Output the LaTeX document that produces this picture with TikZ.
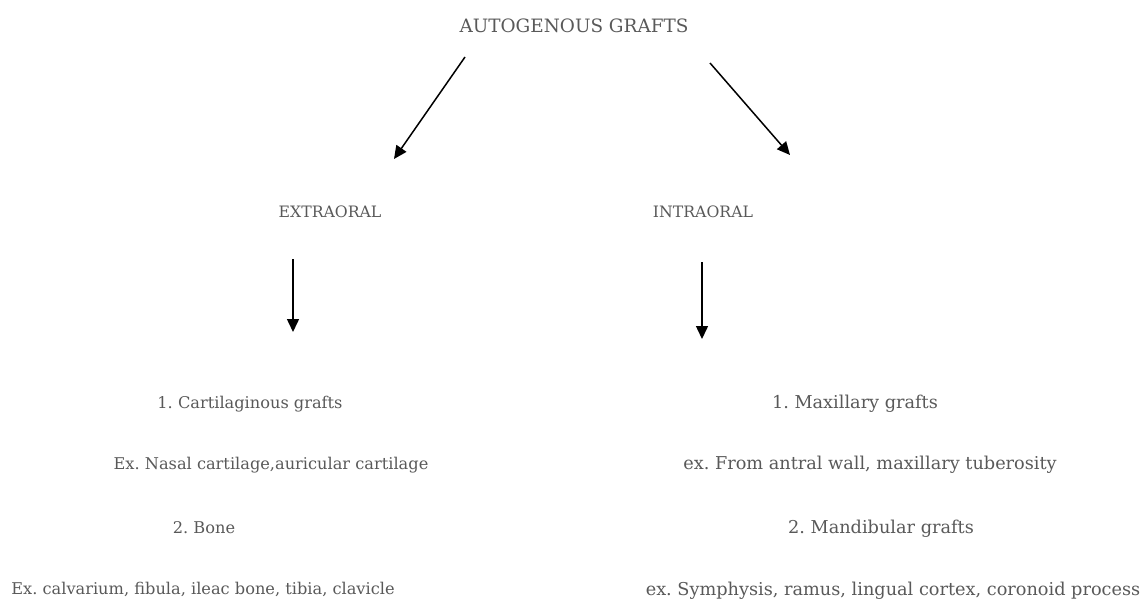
\documentclass[tikz,border=0pt]{standalone}
\usepackage{fontspec}
\setmainfont{DejaVu Serif}
\usetikzlibrary{arrows.meta}
\definecolor{txt}{HTML}{595959}
\frenchspacing
\begin{document}
\begin{tikzpicture}[x=1pt,y=-1pt,
  lbl/.style={text=txt,font=\fontsize{16.2}{18}\selectfont,inner sep=0pt,anchor=base},
  rlbl/.style={lbl,font=\fontsize{17.7}{19}\selectfont},
  toplbl/.style={lbl,font=\fontsize{18.4}{20}\selectfont},
  caplbl/.style={lbl,font=\fontsize{15.7}{17}\selectfont},
  arr/.style={line width=1.5pt,-{Triangle[length=13pt,width=12pt]}}]
\useasboundingbox (0,0) rectangle (1145,599);
\node[toplbl] (top) at (574,33) {AUTOGENOUS GRAFTS};
\node[caplbl] (ext) at (330,217) {EXTRAORAL};
\node[caplbl] (int) at (703,217) {INTRAORAL};
\node[lbl] (l1) at (250,408) {1. Cartilaginous grafts};
\node[lbl] (l2) at (271,469) {Ex. Nasal cartilage,auricular cartilage};
\node[lbl] (l3) at (204,533) {2. Bone};
\node[lbl] (l4) at (203,594) {Ex. calvarium, fibula, ileac bone, tibia, clavicle};
\node[rlbl] (r1) at (855,408) {1. Maxillary grafts};
\node[rlbl] (r2) at (870,469) {ex. From antral wall, maxillary tuberosity};
\node[rlbl] (r3) at (881,533) {2. Mandibular grafts};
\node[rlbl] (r4) at (893,595) {ex. Symphysis, ramus, lingual cortex, coronoid process};
\coordinate (a1s) at (465,57);
\coordinate (a1e) at (394,159);
\coordinate (a2s) at (710,63);
\coordinate (a2e) at (790,155);
\coordinate (a3s) at (293,259);
\coordinate (a3e) at (293,332);
\coordinate (a4s) at (702,262);
\coordinate (a4e) at (702,339);
\draw[arr] (a1s) -- (a1e);
\draw[arr] (a2s) -- (a2e);
\draw[arr] (a3s) -- (a3e);
\draw[arr] (a4s) -- (a4e);
\end{tikzpicture}
\end{document}
